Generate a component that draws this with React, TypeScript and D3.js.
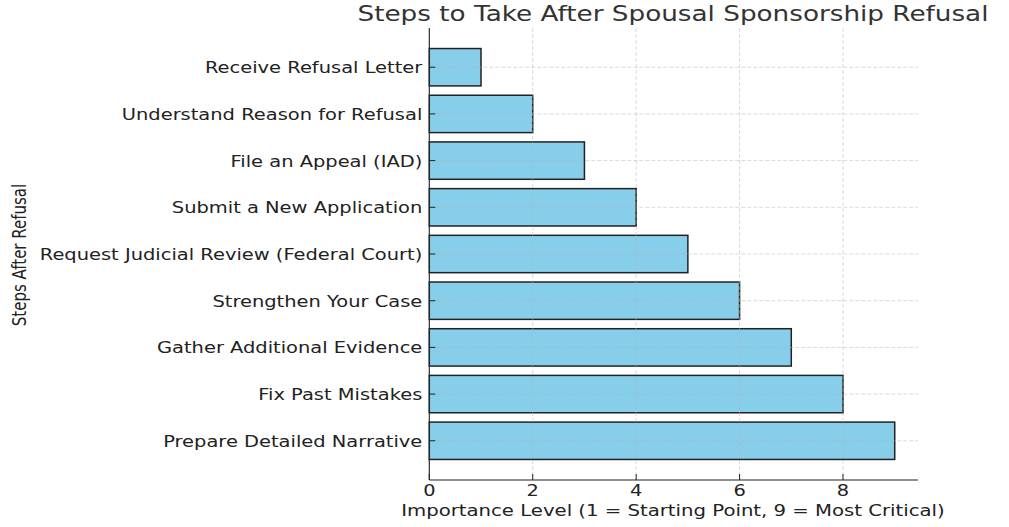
import React from "react";
import * as d3 from "d3";

const steps = [
  "Receive Refusal Letter",
  "Understand Reason for Refusal",
  "File an Appeal (IAD)",
  "Submit a New Application",
  "Request Judicial Review (Federal Court)",
  "Strengthen Your Case",
  "Gather Additional Evidence",
  "Fix Past Mistakes",
  "Prepare Detailed Narrative",
];
const importance = [1, 2, 3, 4, 5, 6, 7, 8, 9];
const xTicks = [0, 2, 4, 6, 8];
const title = "Steps to Take After Spousal Sponsorship Refusal";
const xLabel = "Importance Level (1 = Starting Point, 9 = Most Critical)";
const yLabel = "Steps After Refusal";

const W = 1009;
const H = 527;
const left = 429.3;
const right = 918;
const top = 28;
const bottom = 480;
const SX = 1.25;

export default function App() {
  const x = d3.scaleLinear().domain([0, 9.45]).range([left, right]);
  const y = d3.scaleLinear().domain([-0.84, 8.84]).range([top, bottom]);
  const bh = y(0.4) - y(-0.4);
  const font = "'DejaVu Sans', sans-serif";
  return (
    <svg
      width={W}
      height={H}
      style={{ position: "absolute", left: 0, top: 0, background: "#fff" }}
      fontFamily={font}
    >
      {steps.map((s, i) => (
        <rect
          key={s}
          x={x(0)}
          y={y(i) - bh / 2}
          width={x(importance[i]) - x(0)}
          height={bh}
          fill="#87CEEB"
          stroke="#222"
          strokeWidth={1.5}
        />
      ))}
      {xTicks.map((t) => (
        <line
          key={"gx" + t}
          x1={x(t)}
          x2={x(t)}
          y1={top}
          y2={bottom}
          stroke="#b0b0b0"
          strokeOpacity={0.6}
          strokeDasharray="4,2"
          strokeWidth={0.8}
        />
      ))}
      {steps.map((s, i) => (
        <line
          key={"gy" + s}
          x1={left}
          x2={right}
          y1={y(i)}
          y2={y(i)}
          stroke="#b0b0b0"
          strokeOpacity={0.6}
          strokeDasharray="4,2"
          strokeWidth={0.8}
        />
      ))}
      <line x1={left} x2={left} y1={top} y2={bottom} stroke="#222" strokeWidth={1.1} />
      <line x1={left} x2={right} y1={bottom} y2={bottom} stroke="#222" strokeWidth={1.1} />
      {xTicks.map((t) => (
        <g key={"tx" + t}>
          <line x1={x(t)} x2={x(t)} y1={bottom} y2={bottom - 6} stroke="#222" strokeWidth={1} />
          <text
            transform={`translate(${x(t)}, 496) scale(${SX}, 1)`}
            textAnchor="middle"
            fontSize={15.5}
            fill="#222"
          >
            {t}
          </text>
        </g>
      ))}
      {steps.map((s, i) => (
        <g key={"ty" + s}>
          <line x1={left} x2={left + 6} y1={y(i)} y2={y(i)} stroke="#222" strokeWidth={1} />
          <text
            transform={`translate(${left - 7}, ${y(i)}) scale(1.255, 1)`}
            dy="0.38em"
            textAnchor="end"
            fontSize={15.5}
            fill="#222"
          >
            {s}
          </text>
        </g>
      ))}
      <text
        transform={`translate(673, 21) scale(${SX}, 1)`}
        textAnchor="middle"
        fontSize={21}
        fill="#333"
      >
        {title}
      </text>
      <text
        transform={`translate(673, 516) scale(1.23, 1)`}
        textAnchor="middle"
        fontSize={16}
        fill="#222"
      >
        {xLabel}
      </text>
      <text
        transform={`translate(26, 255) rotate(-90) scale(1, ${SX})`}
        textAnchor="middle"
        fontSize={15}
        fill="#222"
      >
        {yLabel}
      </text>
    </svg>
  );
}
